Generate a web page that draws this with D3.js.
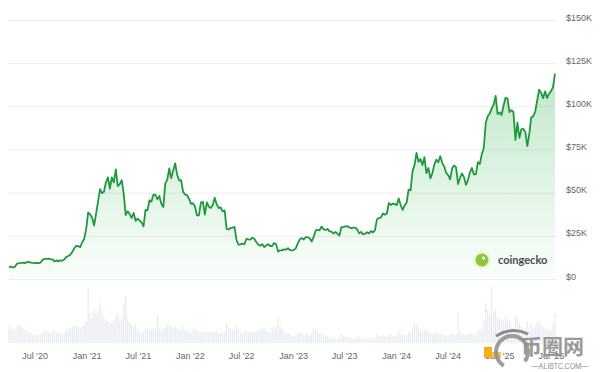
<!DOCTYPE html>
<html>
<head>
<meta charset="utf-8">
<script src="https://cdn.jsdelivr.net/npm/d3@7"></script>
<style>
  body { margin: 0; background: #fff; }
  svg { display: block; font-family: Inter, "Noto Sans", sans-serif; }
</style>
</head>
<body>
<div class="canvas"></div>
<script>
// weekly samples, first one on 1 Apr 2020
const startDate = new Date(2020, 3, 1)

// BTC price, thousands of USD, one value per week
const priceK = [
  // 2020 (from Apr)
  6.6, 7.3, 6.6, 7.1, 8.8, 9.2, 9.3, 9.5, 9.2, 9.7, 9.9, 9.5, 9.3,
  9.2, 9.4, 9.2, 9.5, 11.1, 11.7, 11.6, 11.8, 11.5, 11.4, 10.2, 10.9, 10.2, 10.8,
  10.6, 11.4, 12.8, 13.3, 14.1, 15.7, 17.8, 19.2, 19.0, 18.5, 21.3, 23.2, 28.9,
  // 2021
  38.5, 37.4, 35.5, 31.0, 37.6, 44.8, 52.1, 49.7, 50.5, 56.0, 58.9, 52.3, 58.8,
  56.0, 63.5, 53.8, 54.9, 57.2, 49.2, 37.0, 39.3, 37.6, 35.3, 38.3, 33.7, 35.0,
  33.9, 32.8, 30.5, 40.0, 39.7, 45.6, 44.8, 48.9, 48.8, 46.1, 48.1, 43.6, 41.6,
  55.4, 57.4, 64.0, 58.4, 62.9, 67.0, 60.4, 57.1, 57.2, 50.6, 48.9, 48.6, 46.5,
  // 2022
  43.5, 43.9, 42.0, 36.9, 36.9, 44.4, 44.6, 37.3, 44.4, 41.9, 41.1, 42.9, 47.1,
  43.2, 41.1, 41.5, 39.2, 39.7, 29.0, 28.7, 29.5, 29.8, 30.2, 22.6, 19.9, 20.1,
  20.5, 20.2, 23.2, 22.9, 22.8, 23.9, 23.3, 21.4, 20.0, 19.3, 20.2, 18.5, 19.4,
  20.2, 19.1, 19.1, 20.8, 20.2, 15.9, 16.6, 16.6, 17.2, 17.0, 17.8, 16.8, 16.5,
  // 2023
  16.9, 17.9, 20.7, 23.0, 23.7, 22.9, 24.3, 24.2, 23.6, 21.7, 24.4, 28.1, 28.4,
  28.2, 30.4, 28.8, 28.4, 29.0, 27.6, 27.4, 26.3, 27.2, 26.3, 25.1, 30.0, 30.1,
  30.5, 30.6, 29.9, 29.4, 29.7, 29.8, 28.7, 26.4, 27.3, 25.8, 26.2, 27.1, 26.4,
  27.8, 26.9, 28.3, 34.5, 35.4, 35.6, 37.9, 37.3, 37.8, 44.0, 42.9, 43.7, 43.4,
  // 2024
  42.8, 46.6, 42.7, 40.0, 42.6, 44.3, 51.8, 51.3, 62.5, 66.1, 73.0, 67.9, 69.5,
  66.0, 70.6, 61.3, 64.3, 58.3, 61.2, 66.2, 69.1, 67.6, 71.1, 67.3, 65.1, 61.5,
  60.2, 57.7, 64.1, 65.8, 64.6, 55.0, 58.7, 61.1, 59.0, 54.5, 57.3, 61.7, 64.3,
  60.6, 60.6, 67.6, 66.6, 72.3, 75.9, 90.5, 94.3, 95.9, 98.8, 101.1, 106.0, 95.5,
  // 2025 (to mid Jul)
  96.5, 95.0, 100.5, 105.0, 104.5, 96.6, 97.8, 96.6, 80.5, 90.6, 81.7, 86.8, 86.9,
  85.2, 77.0, 84.0, 93.7, 94.2, 97.0, 103.5, 109.6, 107.8, 104.7, 108.7, 104.8, 107.3,
  108.8, 111.2, 119.0
]

// traded volume, billions of USD, same weeks
const volumeB = [
  // 2020
  45, 38, 40, 36, 45, 55, 48, 40, 35, 32, 30, 28, 25,
  22, 20, 22, 24, 30, 35, 32, 30, 28, 30, 35, 30, 28, 26,
  25, 28, 35, 38, 40, 45, 48, 50, 45, 42, 45, 50, 60,
  // 2021
  150, 85, 70, 95, 80, 90, 110, 95, 70, 65, 60, 55, 55,
  60, 75, 80, 60, 65, 110, 130, 70, 55, 50, 45, 50, 40,
  30, 28, 30, 40, 40, 38, 35, 38, 40, 75, 40, 38, 35,
  45, 50, 48, 45, 42, 45, 40, 38, 35, 45, 38, 32, 30,
  // 2022
  30, 35, 40, 35, 30, 32, 28, 30, 32, 30, 28, 30, 32,
  30, 28, 26, 28, 30, 55, 45, 40, 35, 38, 50, 40, 30,
  28, 30, 35, 30, 28, 30, 28, 30, 32, 38, 40, 42, 35,
  32, 30, 42, 35, 45, 70, 50, 40, 30, 25, 28, 25, 20,
  // 2023
  18, 22, 30, 28, 25, 22, 28, 25, 20, 25, 40, 35, 30,
  25, 28, 22, 20, 18, 16, 14, 14, 12, 12, 14, 25, 20,
  18, 16, 14, 12, 12, 10, 20, 14, 15, 10, 12, 12, 11,
  12, 10, 15, 25, 20, 18, 22, 18, 16, 22, 25, 20, 18,
  // 2024
  20, 35, 25, 22, 20, 22, 30, 28, 45, 55, 50, 45, 35,
  32, 35, 38, 30, 30, 25, 28, 30, 25, 24, 25, 22, 20,
  20, 25, 28, 26, 25, 85, 30, 28, 24, 22, 25, 28, 26,
  25, 22, 35, 32, 38, 60, 110, 90, 75, 155, 85, 95, 70,
  // 2025
  70, 65, 60, 75, 60, 65, 45, 40, 70, 75, 55, 45, 38,
  40, 60, 35, 50, 40, 45, 55, 60, 50, 45, 40, 38, 35,
  35, 55, 80
]

const yTicks = [0, 25, 50, 75, 100, 125, 150]
const xTickLabels = ["Jul '20", "Jan '21", "Jul '21", "Jan '22", "Jul '22", "Jan '23",
  "Jul '23", "Jan '24", "Jul '24", "Jan '25", "Jul '25"]
const xTickDates = ["2020-07-01", "2021-01-01", "2021-07-01", "2022-01-01", "2022-07-01",
  "2023-01-01", "2023-07-01", "2024-01-01", "2024-07-01", "2025-01-01", "2025-07-01"]

const data = priceK.map((p, i) => ({
  date: d3.timeWeek.offset(startDate, i),
  price: p,
  volume: volumeB[i]
}))

const svg = d3.select('.canvas').append('svg')
  .attr('width', 600)
  .attr('height', 372)

const x = d3.scaleTime()
  .domain(d3.extent(data, d => d.date))
  .range([9, 555])

const y = d3.scaleLinear().domain([0, 150]).range([279, 20])
const yVol = d3.scaleLinear().domain([0, 160]).range([343, 285])

// gradient under the price line
const grad = svg.append('defs').append('linearGradient')
  .attr('id', 'fillGrad')
  .attr('x1', 0).attr('y1', 0).attr('x2', 0).attr('y2', 1)
grad.append('stop').attr('offset', '0%').attr('stop-color', '#2fb34f').attr('stop-opacity', 0.3)
grad.append('stop').attr('offset', '100%').attr('stop-color', '#2fb34f').attr('stop-opacity', 0.02)

// gridlines
const grid = svg.append('g')
  .attr('transform', 'translate(556,0)')
  .call(d3.axisLeft(y).tickValues(yTicks).tickSize(548).tickFormat(''))
grid.select('.domain').remove()
grid.selectAll('line').attr('stroke', '#eeeeee')

// y labels on the right
const yAxis = svg.append('g')
  .attr('transform', 'translate(560,0)')
  .call(d3.axisRight(y).tickValues(yTicks).tickSize(0).tickPadding(6)
    .tickFormat(d => d === 0 ? '$0' : '$' + d + 'K'))
yAxis.select('.domain').remove()
yAxis.selectAll('text')
  .attr('dy', '0')
  .attr('fill', '#666')
  .style('font-size', '9px')

// volume bars
svg.append('g').selectAll('rect')
  .data(data)
  .enter().append('rect')
  .attr('x', d => x(d.date) - 0.6)
  .attr('width', 1.2)
  .attr('y', d => yVol(d.volume))
  .attr('height', d => yVol(0) - yVol(d.volume))
  .attr('fill', '#e6eaf1')

// price area + line
const area = d3.area()
  .x(d => x(d.date))
  .y0(y(0))
  .y1(d => y(d.price))

svg.append('path')
  .datum(data)
  .attr('d', area)
  .attr('fill', 'url(#fillGrad)')

const line = d3.line()
  .x(d => x(d.date))
  .y(d => y(d.price))

svg.append('path')
  .datum(data)
  .attr('d', line)
  .attr('fill', 'none')
  .attr('stroke', '#1e9a3c')
  .attr('stroke-width', 1.8)
  .attr('stroke-linejoin', 'round')

// x labels
const xAxis = svg.append('g')
  .attr('transform', 'translate(0,345)')
  .call(d3.axisBottom(x)
    .tickValues(xTickDates.map(s => d3.timeParse('%Y-%m-%d')(s)))
    .tickSize(0).tickPadding(8)
    .tickFormat((d, i) => xTickLabels[i]))
xAxis.select('.domain').remove()
xAxis.selectAll('text')
  .attr('fill', '#666')
  .style('font-size', '9px')

// coingecko mark
const logo = svg.append('g').attr('transform', 'translate(482,260)')
logo.append('circle').attr('r', 9).attr('fill', '#eef7d8')
logo.append('circle').attr('r', 6.5).attr('fill', '#8dc63f')
logo.append('circle').attr('cx', 1.5).attr('cy', -2).attr('r', 1.4).attr('fill', '#fff')
logo.append('text')
  .attr('x', 16).attr('y', 3.5)
  .attr('fill', '#4a4a4a')
  .style('font-size', '11px')
  .style('font-weight', 'bold')
  .style('font-family', 'Lato, sans-serif')
  .text('coingecko')

// watermark, bottom right
const wm = svg.append('g')
wm.append('rect').attr('x', 484).attr('y', 347).attr('width', 8).attr('height', 11).attr('fill', '#f2b01e')
wm.append('rect').attr('x', 492).attr('y', 352).attr('width', 9).attr('height', 6).attr('fill', '#f6c445')
wm.append('path')
  .attr('d', d3.arc()({ innerRadius: 14, outerRadius: 18, startAngle: -2.6, endAngle: 2.2 }))
  .attr('transform', 'translate(512,352)')
  .attr('fill', '#8c8c8c')
  .attr('opacity', 0.85)
wm.append('path')
  .attr('d', 'M496,336 Q512,326 528,334')
  .attr('fill', 'none').attr('stroke', '#8c8c8c').attr('stroke-width', 3)
wm.append('text')
  .attr('x', 521).attr('y', 354)
  .attr('fill', '#8f8f8f')
  .attr('opacity', 0.9)
  .style('font-size', '21px')
  .style('font-weight', 'bold')
  .style('font-family', '"Noto Sans CJK SC", sans-serif')
  .text('币圈网')
wm.append('text')
  .attr('x', 560).attr('y', 369)
  .attr('text-anchor', 'middle')
  .attr('fill', '#8f8f8f')
  .style('font-size', '7px')
  .text('—ALIBTC.COM—')
</script>
</body>
</html>
